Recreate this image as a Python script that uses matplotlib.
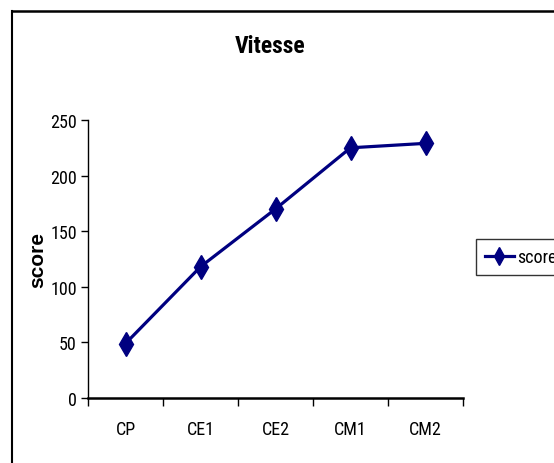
import matplotlib
matplotlib.use("Agg")
import matplotlib.pyplot as plt
from matplotlib.lines import Line2D

categories = ["CP", "CE1", "CE2", "CM1", "CM2"]
score = [49, 118, 170, 225, 229]
yticks = [0, 50, 100, 150, 200, 250]

NARROW = ["Roboto Condensed", "DejaVu Sans"]
plt.rcParams['font.family'] = NARROW

fig = plt.figure(figsize=(5.54, 4.64), dpi=100)
ax = fig.add_axes([88/554, 1-399/464, 375/554, 278/464])

x = [i + 0.5 for i in range(len(categories))]
line, = ax.plot(x, score, color="#000080", lw=2.3, marker="d", markersize=12,
                markerfacecolor="#000080", markeredgecolor="#000080", label="score")

ax.set_xlim(0, len(categories))
ax.set_ylim(0, 250)
ax.set_yticks(yticks)
ax.set_yticklabels([str(v) for v in yticks], fontsize=13)
ax.set_xticks(range(len(categories) + 1))
ax.set_xticklabels([])
ax.set_xticks(x, minor=True)
ax.set_xticklabels(categories, minor=True, fontsize=13)
ax.tick_params(axis="x", which="minor", length=0, pad=16)
ax.tick_params(axis="x", which="major", direction="out", length=6, width=1)
ax.tick_params(axis="y", direction="out", length=5, width=1, pad=3)
for s in ["top", "right"]:
    ax.spines[s].set_visible(False)
ax.spines["left"].set_linewidth(1)
ax.spines["bottom"].set_linewidth(1.8)

ax.set_ylabel("score", fontsize=15, fontweight="bold", fontfamily=["Liberation Sans", "DejaVu Sans"])
ax.yaxis.set_label_coords((47-88)/375, 0.5)
fig.text(270/554, 1-47/464, "Vitesse", ha="center", va="center", fontsize=17, fontweight="bold")

leg = fig.legend(handles=[line], loc="upper left", bbox_to_anchor=(476/554, 1-240/464),
                 frameon=True, fancybox=False, edgecolor="black", fontsize=13,
                 handlelength=1.6, handletextpad=0.2, borderpad=0.5, borderaxespad=0)
leg.get_frame().set_linewidth(1)
for h in leg.legend_handles:
    h.set_markersize(9)

# outer chart border (left & top visible)
fig.add_artist(Line2D([12/554, 12/554], [0, 1-12/464], color="black", lw=1.5, transform=fig.transFigure))
fig.add_artist(Line2D([12/554, 1], [1-12/464, 1-12/464], color="black", lw=1.8, transform=fig.transFigure))

fig.savefig("out.png", dpi=100)
